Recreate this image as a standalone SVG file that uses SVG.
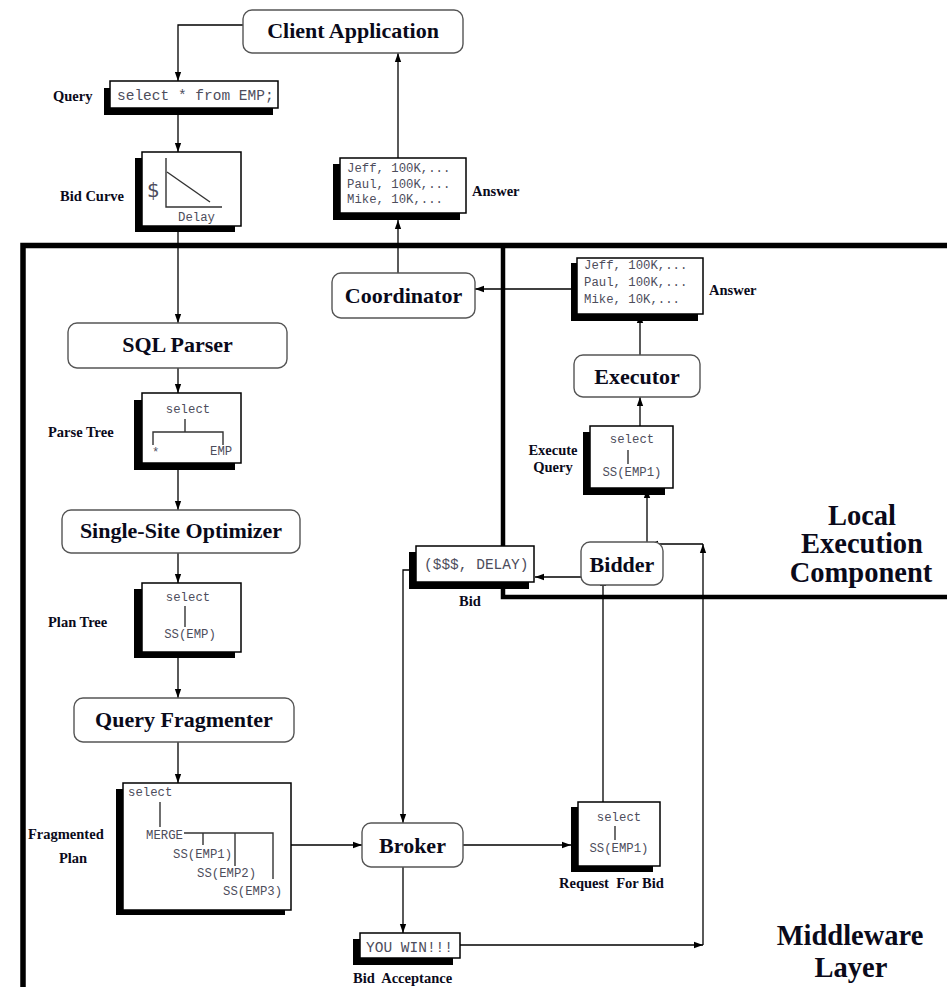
<svg xmlns="http://www.w3.org/2000/svg" width="947" height="987" viewBox="0 0 947 987">
<style>
.bg{fill:#fff}
.frame{fill:none;stroke:#000}
.c{fill:none;stroke:#000;stroke-width:1.3}
.sh{fill:#000}
.box{fill:#fff;stroke:#000;stroke-width:1.5}
.rbox{fill:#fff;stroke:#555;stroke-width:1.4}
.tl{stroke:#333;stroke-width:1.4;fill:none}
.nt{font-family:"Liberation Serif",serif;font-weight:bold;font-size:22px;fill:#0a0a1a;text-anchor:middle}
.lb{font-family:"Liberation Serif",serif;font-weight:bold;font-size:14.5px;fill:#0a0a1a}
.big{font-family:"Liberation Serif",serif;font-weight:bold;font-size:28.5px;fill:#0a0a1a;text-anchor:middle}
.m{font-family:"Liberation Mono",monospace;font-size:12.3px;fill:#4d4d5c}
.ml{font-family:"Liberation Mono",monospace;font-size:14.5px;fill:#4d4d5c}
.mid{text-anchor:middle}
</style>
<defs>
<marker id="ah" viewBox="0 0 10 10" refX="10" refY="5" markerWidth="9" markerHeight="9" markerUnits="userSpaceOnUse" orient="auto">
<path d="M0,1.5 L10,5 L0,8.5 z" fill="#000"/>
</marker>
</defs>
<rect class="bg" x="0" y="0" width="947" height="987"/>

<g id="frames">
<path class="frame" d="M23,987 V245.5 H947" stroke-width="5.5"/>
<path class="frame" d="M503,245 V597 H947" stroke-width="4.5"/>
</g>

<g id="connectors">
<path class="c" d="M243,25 H178 V81" marker-end="url(#ah)"/>
<path class="c" d="M178,108 V152" marker-end="url(#ah)"/>
<path class="c" d="M178,226 V323" marker-end="url(#ah)"/>
<path class="c" d="M178,368 V393" marker-end="url(#ah)"/>
<path class="c" d="M178,463 V510" marker-end="url(#ah)"/>
<path class="c" d="M178,553 V583" marker-end="url(#ah)"/>
<path class="c" d="M178,652 V698" marker-end="url(#ah)"/>
<path class="c" d="M178,742 V783" marker-end="url(#ah)"/>
<path class="c" d="M285,845 H362" marker-end="url(#ah)"/>
<path class="c" d="M463,845 H571" marker-end="url(#ah)"/>
<path class="c" d="M403,867 V933" marker-end="url(#ah)"/>
<path class="c" d="M460,945 H703" marker-end="url(#ah)"/>
<path class="c" d="M703,945 V544" marker-end="url(#ah)"/>
<path class="c" d="M703,544 H649" marker-end="url(#ah)"/>
<path class="c" d="M647,544 V489" marker-end="url(#ah)"/>
<path class="c" d="M603,802 V577" marker-end="url(#ah)"/>
<path class="c" d="M603,577 H535" marker-end="url(#ah)"/>
<path class="c" d="M416,570 H403 V823" marker-end="url(#ah)"/>
<path class="c" d="M640,426 V397" marker-end="url(#ah)"/>
<path class="c" d="M640,355 V314" marker-end="url(#ah)"/>
<path class="c" d="M571,289 H475" marker-end="url(#ah)"/>
<path class="c" d="M398,273 V220" marker-end="url(#ah)"/>
<path class="c" d="M398,158 V53" marker-end="url(#ah)"/>
</g>

<g id="client-application">
<rect class="rbox" x="243" y="10" width="220" height="43" rx="9"/>
<text class="nt" x="353" y="38">Client Application</text>
</g>

<g id="query">
<rect class="sh" x="104" y="88" width="169" height="27"/>
<rect class="box" x="110" y="81" width="168" height="27"/>
<text class="ml" x="117" y="100">select * from EMP;</text>
<text class="lb" x="53" y="101">Query</text>
</g>

<g id="bid-curve">
<rect class="sh" x="135" y="158" width="100" height="74"/>
<rect class="box" x="142" y="152" width="99" height="74"/>
<path class="tl" d="M166,158 V207 H222"/>
<path class="tl" d="M167,172 L210,202"/>
<text x="147" y="197" font-family="DejaVu Sans, sans-serif" font-size="20" fill="#4d4d5c">$</text>
<text class="m" x="178" y="221">Delay</text>
<text class="lb" x="60" y="201">Bid Curve</text>
</g>

<g id="answer-top">
<rect class="sh" x="333" y="164" width="127" height="56"/>
<rect class="box" x="340" y="158" width="126" height="55"/>
<text class="m" x="347" y="172">Jeff, 100K,...</text>
<text class="m" x="347" y="188">Paul, 100K,...</text>
<text class="m" x="347" y="203">Mike, 10K,...</text>
<text class="lb" x="472" y="196">Answer</text>
</g>

<g id="coordinator">
<rect class="rbox" x="332" y="273" width="143" height="45" rx="9"/>
<text class="nt" x="403.5" y="303">Coordinator</text>
</g>

<g id="sql-parser">
<rect class="rbox" x="68" y="323" width="219" height="45" rx="9"/>
<text class="nt" x="177.5" y="352">SQL Parser</text>
</g>

<g id="parse-tree">
<rect class="sh" x="134" y="400" width="101" height="70"/>
<rect class="box" x="142" y="393" width="99" height="70"/>
<text class="m mid" x="188" y="413">select</text>
<path class="tl" d="M185,419 V432 M153,445 V432 H223 V445"/>
<text class="m" x="152" y="456">*</text>
<text class="m" x="210" y="455">EMP</text>
<text class="lb" x="48" y="437">Parse Tree</text>
</g>

<g id="single-site-optimizer">
<rect class="rbox" x="62" y="510" width="238" height="43" rx="9"/>
<text class="nt" x="181" y="538">Single-Site Optimizer</text>
</g>

<g id="plan-tree">
<rect class="sh" x="134" y="589" width="101" height="69"/>
<rect class="box" x="142" y="583" width="99" height="69"/>
<text class="m mid" x="188" y="601">select</text>
<path class="tl" d="M185,606 V627"/>
<text class="m mid" x="190" y="638">SS(EMP)</text>
<text class="lb" x="48" y="627">Plan Tree</text>
</g>

<g id="query-fragmenter">
<rect class="rbox" x="74" y="698" width="220" height="44" rx="9"/>
<text class="nt" x="184" y="727">Query Fragmenter</text>
</g>

<g id="fragmented-plan">
<rect class="sh" x="116" y="789" width="169" height="126"/>
<rect class="box" x="123" y="783" width="168" height="127"/>
<text class="m" x="128" y="796">select</text>
<path class="tl" d="M160,802 V827"/>
<text class="m" x="146" y="839">MERGE</text>
<path class="tl" d="M184,833 H273 V879 M203,833 V845 M235,833 V866"/>
<text class="m" x="173" y="858">SS(EMP1)</text>
<text class="m" x="197" y="877">SS(EMP2)</text>
<text class="m" x="223" y="895">SS(EMP3)</text>
<text class="lb" x="28" y="839">Fragmented</text>
<text class="lb" x="73" y="863" text-anchor="middle">Plan</text>
</g>

<g id="broker">
<rect class="rbox" x="362" y="823" width="101" height="44" rx="9"/>
<text class="nt" x="412.5" y="853">Broker</text>
</g>

<g id="request-for-bid">
<rect class="sh" x="571" y="807" width="82" height="65"/>
<rect class="box" x="578" y="802" width="82" height="64"/>
<text class="m mid" x="619" y="821">select</text>
<path class="tl" d="M615,826 V840"/>
<text class="m mid" x="619" y="852">SS(EMP1)</text>
<text class="lb" x="559" y="888" xml:space="preserve">Request  For Bid</text>
</g>

<g id="bid-acceptance">
<rect class="sh" x="353" y="939" width="100" height="26"/>
<rect class="box" x="360" y="933" width="100" height="25"/>
<text class="ml" x="366" y="952">YOU WIN!!!</text>
<text class="lb" x="353" y="983" xml:space="preserve">Bid  Acceptance</text>
</g>

<g id="bid">
<rect class="sh" x="409" y="552" width="120" height="37"/>
<rect class="box" x="416" y="546" width="118" height="36"/>
<text class="ml" x="424" y="569" font-size="14">($$$, DELAY)</text>
<text class="lb" x="470" y="606" text-anchor="middle">Bid</text>
</g>

<g id="bidder">
<rect class="rbox" x="581" y="542" width="82" height="43" rx="9"/>
<text class="nt" x="622" y="572">Bidder</text>
</g>

<g id="execute-query">
<rect class="sh" x="583" y="432" width="82" height="63"/>
<rect class="box" x="590" y="426" width="83" height="62"/>
<text class="m mid" x="632" y="443">select</text>
<path class="tl" d="M628,450 V464"/>
<text class="m mid" x="632" y="476">SS(EMP1)</text>
<text class="lb" x="553" y="455" text-anchor="middle">Execute</text>
<text class="lb" x="553" y="472" text-anchor="middle">Query</text>
</g>

<g id="executor">
<rect class="rbox" x="574" y="355" width="126" height="42" rx="9"/>
<text class="nt" x="637" y="384">Executor</text>
</g>

<g id="answer-local">
<rect class="sh" x="571" y="263" width="127" height="58"/>
<rect class="box" x="577" y="258" width="126" height="56"/>
<text class="m" x="584" y="269">Jeff, 100K,...</text>
<text class="m" x="584" y="286">Paul, 100K,...</text>
<text class="m" x="584" y="303">Mike, 10K,...</text>
<text class="lb" x="709" y="295">Answer</text>
</g>

<g id="local-execution-component-label">
<text class="big" x="862" y="525">Local</text>
<text class="big" x="862" y="553">Execution</text>
<text class="big" x="861" y="582">Component</text>
</g>

<g id="middleware-layer-label">
<text class="big" x="850" y="945">Middleware</text>
<text class="big" x="851" y="977">Layer</text>
</g>
</svg>
